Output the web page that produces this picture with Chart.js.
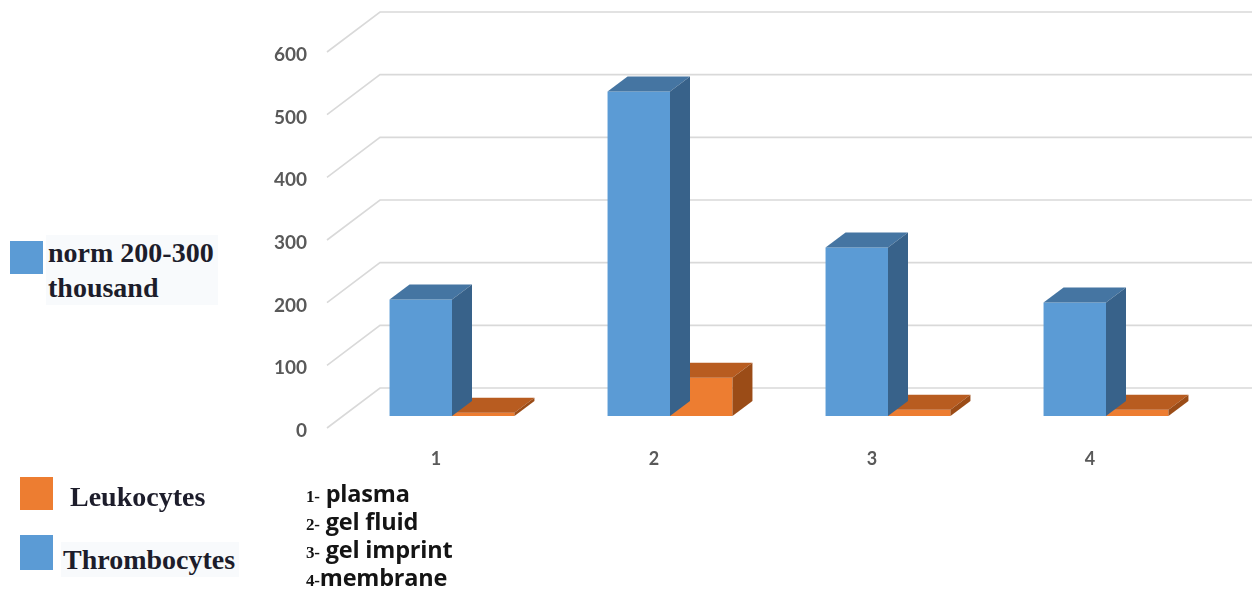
<!DOCTYPE html>
<html>
<head>
<meta charset="utf-8">
<script src="https://cdn.jsdelivr.net/npm/chart.js@4.4.0/dist/chart.umd.min.js"></script>
<style>
  html, body { margin: 0; padding: 0; background: #ffffff; }
  #wrap { position: relative; width: 1259px; height: 590px; overflow: hidden; }
  #c { position: absolute; left: 0; top: 0; }
  .sq { position: absolute; width: 33px; height: 33px; }
  .lg { position: absolute; font-family: "Liberation Serif", "DejaVu Serif", serif; font-weight: bold; font-size: 28px; color: #1d1d2b; line-height: 35px; background: #f8fafc; padding: 0 4px 0 2px; white-space: nowrap; }
  .notes { position: absolute; left: 306px; top: 479px; font-family: "Open Sans", Lato, sans-serif; font-weight: bold; font-size: 23.5px; color: #141414; letter-spacing: -0.2px; white-space: nowrap; }
  .notes div { height: 28px; line-height: 28px; }
  .notes span.n { font-family: "Liberation Serif", serif; font-size: 17px; line-height: 1; }
</style>
</head>
<body>
<div id="wrap">
  <canvas id="c" width="1259" height="590"></canvas>
  <div class="sq" style="left:10px; top:241px; background:#5B9BD5;"></div>
  <div class="lg" style="left:46px; top:235px;">norm 200-300<br>thousand</div>
  <div class="sq" style="left:20px; top:477px; width:33px; height:33px; background:#ED7D31;"></div>
  <div class="lg" style="left:68px; top:479px; background:transparent;">Leukocytes</div>
  <div class="sq" style="left:20px; top:535px; height:35px; background:#5B9BD5;"></div>
  <div class="lg" style="left:61px; top:542px;">Thrombocytes</div>
  <div class="notes">
    <div><span class="n">1-</span> plasma</div>
    <div><span class="n">2-</span> gel fluid</div>
    <div><span class="n">3-</span> gel imprint</div>
    <div><span class="n">4-</span>membrane</div>
  </div>
</div>
<script>
const categories = ["1", "2", "3", "4"];
const thrombocytes = [186, 518, 269, 181];
const leukocytes = [5, 61, 10, 10];
const yTicks = [0, 100, 200, 300, 400, 500, 600];

const DEPTH = { dx: 20, dy: 15 };
const WALL_FRONT = { dx: -16, dy: 12 };
const WALL_BACK = { dx: 37, dy: -28 };

const faceColors = [
  { top: "#4575a2", side: "#38628a" },
  { top: "#b85c20", side: "#9b4c17" }
];

const gridPlugin = {
  id: "grid3d",
  beforeDatasetsDraw(chart) {
    const ctx = chart.ctx;
    const y = chart.scales.y;
    const left = chart.chartArea.left;
    ctx.save();
    ctx.strokeStyle = "#d9d9d9";
    ctx.lineWidth = 1.6;
    y.ticks.forEach(t => {
      const py = y.getPixelForValue(t.value);
      ctx.beginPath();
      ctx.moveTo(left + WALL_FRONT.dx, py + WALL_FRONT.dy);
      ctx.lineTo(left + WALL_BACK.dx, py + WALL_BACK.dy);
      ctx.lineTo(chart.width - 7, py + WALL_BACK.dy);
      ctx.stroke();
    });
    ctx.restore();
  }
};

const barFacesPlugin = {
  id: "barFaces",
  afterDatasetDraw(chart, args) {
    const ctx = chart.ctx;
    const cols = faceColors[args.index];
    ctx.save();
    args.meta.data.forEach(bar => {
      const p = bar.getProps(["x", "y", "base", "width"], true);
      const x1 = p.x - p.width / 2, x2 = p.x + p.width / 2;
      const top = p.y, base = p.base;
      ctx.fillStyle = cols.top;
      ctx.beginPath();
      ctx.moveTo(x1, top);
      ctx.lineTo(x2, top);
      ctx.lineTo(x2 + DEPTH.dx, top - DEPTH.dy);
      ctx.lineTo(x1 + DEPTH.dx, top - DEPTH.dy);
      ctx.closePath();
      ctx.fill();
      ctx.fillStyle = cols.side;
      ctx.beginPath();
      ctx.moveTo(x2, top);
      ctx.lineTo(x2 + DEPTH.dx, top - DEPTH.dy);
      ctx.lineTo(x2 + DEPTH.dx, base - DEPTH.dy);
      ctx.lineTo(x2, base);
      ctx.closePath();
      ctx.fill();
    });
    ctx.restore();
  }
};

new Chart(document.getElementById("c"), {
  type: "bar",
  data: {
    labels: categories,
    datasets: [
      { label: "Thrombocytes", data: thrombocytes, backgroundColor: "#5B9BD5", borderWidth: 0 },
      { label: "Leukocytes", data: leukocytes, backgroundColor: "#ED7D31", borderWidth: 0 }
    ]
  },
  options: {
    responsive: false,
    animation: false,
    devicePixelRatio: 1,
    layout: { padding: { top: 40, right: 44, left: 0, bottom: 0 } },
    datasets: { bar: { categoryPercentage: 0.573, barPercentage: 1.0 } },
    plugins: { legend: { display: false }, tooltip: { enabled: false } },
    scales: {
      x: {
        grid: { display: false },
        border: { display: false },
        ticks: {
          color: "#595959",
          font: { family: "Lato, 'Open Sans', sans-serif", size: 18, weight: "bold" },
          padding: 24,
          labelOffset: WALL_FRONT.dx,
          maxRotation: 0
        },
        afterFit(scale) { scale.height = 174; }
      },
      y: {
        min: 0,
        max: 600,
        afterBuildTicks(scale) { scale.ticks = yTicks.map(v => ({ value: v })); },
        grid: { display: false },
        border: { display: false },
        ticks: {
          color: "#595959",
          font: { family: "Lato, 'Open Sans', sans-serif", size: 19, weight: "bold" },
          padding: 28,
          labelOffset: 15
        },
        afterFit(scale) { scale.width = 343; }
      }
    }
  },
  plugins: [gridPlugin, barFacesPlugin]
});
</script>
</body>
</html>
